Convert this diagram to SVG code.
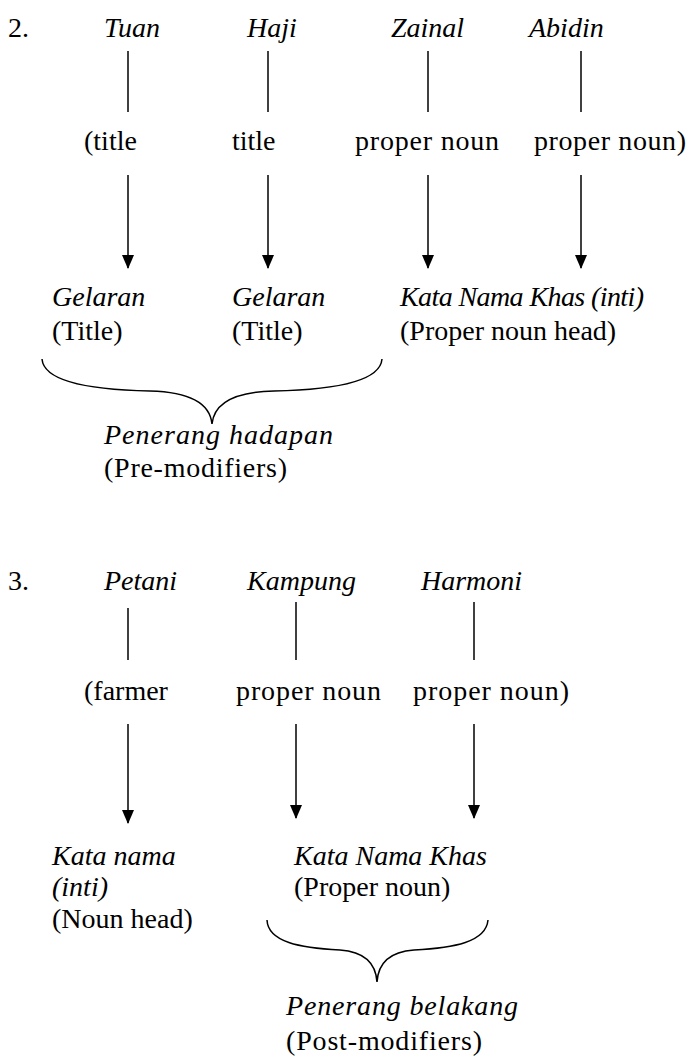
<svg xmlns="http://www.w3.org/2000/svg" width="689" height="1063" viewBox="0 0 689 1063">
<style>
text{font-family:"Liberation Serif","Times New Roman",serif;font-size:28px;fill:#000}
.i{font-style:italic}
.ln{stroke:#000;stroke-width:1.5;fill:none}
.br{stroke:#000;stroke-width:1.5;fill:none}
</style>
<defs>
<marker id="ah" viewBox="0 0 14 12" refX="13" refY="6" markerWidth="14" markerHeight="12" markerUnits="userSpaceOnUse" orient="auto">
<path d="M0,0 L14,6 L0,12 Z" fill="#000"/>
</marker>
</defs>
<rect width="689" height="1063" fill="#fff"/>

<g id="ex2-words">
<text x="8" y="37">2.</text>
<text class="i" x="104" y="37">Tuan</text>
<text class="i" x="247" y="37">Haji</text>
<text class="i" x="391" y="37">Zainal</text>
<text class="i" x="529" y="37">Abidin</text>
</g>
<g id="ex2-glosses">
<text x="84" y="150">(title</text>
<text x="232" y="150">title</text>
<text x="355" y="150" textLength="144">proper noun</text>
<text x="534" y="150" textLength="152">proper noun)</text>
</g>
<g id="ex2-gelaran1">
<text class="i" x="52" y="306">Gelaran</text>
<text x="52" y="340">(Title)</text>
</g>
<g id="ex2-gelaran2">
<text class="i" x="232" y="306">Gelaran</text>
<text x="232" y="340">(Title)</text>
</g>
<g id="ex2-head">
<text class="i" x="400" y="306" textLength="244">Kata Nama Khas (inti)</text>
<text x="400" y="340">(Proper noun head)</text>
</g>
<g id="ex2-premod">
<text class="i" x="104" y="444" textLength="229">Penerang hadapan</text>
<text x="104" y="477" textLength="183">(Pre-modifiers)</text>
</g>

<g id="ex3-words">
<text x="8" y="590">3.</text>
<text class="i" x="104" y="590">Petani</text>
<text class="i" x="247" y="590">Kampung</text>
<text class="i" x="421" y="590">Harmoni</text>
</g>
<g id="ex3-glosses">
<text x="84" y="700">(farmer</text>
<text x="236" y="700" textLength="145">proper noun</text>
<text x="413" y="700" textLength="156">proper noun)</text>
</g>
<g id="ex3-head">
<text class="i" x="52" y="865">Kata nama</text>
<text class="i" x="52" y="896">(inti)</text>
<text x="52" y="928">(Noun head)</text>
</g>
<g id="ex3-propnoun">
<text class="i" x="294" y="865">Kata Nama Khas</text>
<text x="294" y="896">(Proper noun)</text>
</g>
<g id="ex3-postmod">
<text class="i" x="286" y="1015" textLength="232">Penerang belakang</text>
<text x="286" y="1050" textLength="196">(Post-modifiers)</text>
</g>

<g id="connectors">
<line class="ln" x1="128" y1="51" x2="128" y2="112"/>
<line class="ln" x1="268" y1="51" x2="268" y2="112"/>
<line class="ln" x1="428" y1="51" x2="428" y2="112"/>
<line class="ln" x1="581" y1="51" x2="581" y2="112"/>
<line class="ln" x1="128" y1="175" x2="128" y2="268" marker-end="url(#ah)"/>
<line class="ln" x1="268" y1="175" x2="268" y2="268" marker-end="url(#ah)"/>
<line class="ln" x1="428" y1="175" x2="428" y2="268" marker-end="url(#ah)"/>
<line class="ln" x1="581" y1="175" x2="581" y2="268" marker-end="url(#ah)"/>
<path class="br" d="M42,359 C44,384 100,390 150,391 C190,392 210,404 212,424 C214,404 234,392 274,391 C324,390 380,384 382,359"/>

<line class="ln" x1="128" y1="608" x2="128" y2="660"/>
<line class="ln" x1="296" y1="602" x2="296" y2="660"/>
<line class="ln" x1="474" y1="602" x2="474" y2="660"/>
<line class="ln" x1="128" y1="724" x2="128" y2="823" marker-end="url(#ah)"/>
<line class="ln" x1="296" y1="724" x2="296" y2="818" marker-end="url(#ah)"/>
<line class="ln" x1="474" y1="724" x2="474" y2="818" marker-end="url(#ah)"/>
<path class="br" d="M267,920 C268,942 300,948 340,950 C368,952 376,966 377,982 C378,966 386,952 414,950 C454,948 486,942 488,920"/>
</g>
</svg>
